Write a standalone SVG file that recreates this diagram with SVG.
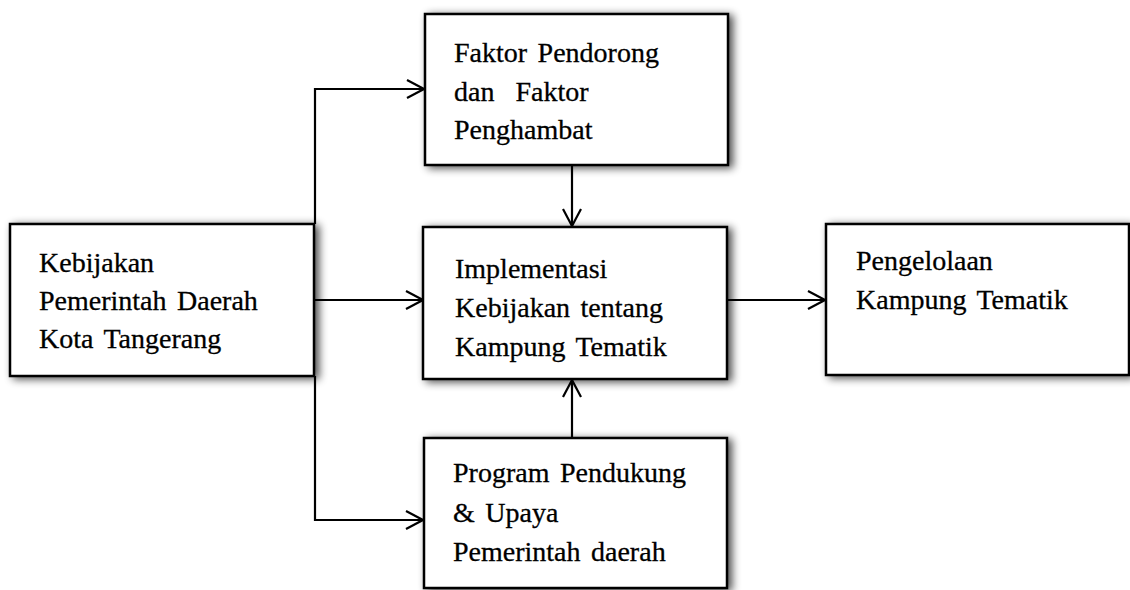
<svg xmlns="http://www.w3.org/2000/svg" width="1130" height="590" viewBox="0 0 1130 590">
  <defs>
    <filter id="shadow" x="-10%" y="-15%" width="125%" height="135%">
      <feGaussianBlur in="SourceAlpha" stdDeviation="4"/>
      <feOffset dx="4" dy="2" result="b"/>
      <feComponentTransfer><feFuncA type="linear" slope="0.7"/></feComponentTransfer>
      <feMerge><feMergeNode/><feMergeNode in="SourceGraphic"/></feMerge>
    </filter>
    <marker id="arrow" viewBox="0 0 20 20" refX="18" refY="10" markerWidth="20" markerHeight="20" markerUnits="userSpaceOnUse" orient="auto">
      <path d="M1,1 L18,10 L1,19" fill="none" stroke="#000" stroke-width="2.2"/>
    </marker>
  </defs>
  <style>
    .box { fill: #fff; stroke: #000; stroke-width: 2.5; filter: url(#shadow); }
    .lbl { font-family: "Liberation Serif", "Times New Roman", serif; font-size: 28px; word-spacing: 3.5px; fill: #000; stroke: #000; stroke-width: 0.3; }
    .conn { fill: none; stroke: #000; stroke-width: 2.2; }
  </style>
  <rect width="1130" height="590" fill="#fff"/>

  <!-- connectors -->
  <g id="connectors">
    <path class="conn" d="M315,224 L315,89 L424,89" marker-end="url(#arrow)"/>
    <path class="conn" d="M315,376 L315,520 L423,520" marker-end="url(#arrow)"/>
    <path class="conn" d="M314,300 L423,300" marker-end="url(#arrow)"/>
    <path class="conn" d="M572,165 L572,226" marker-end="url(#arrow)"/>
    <path class="conn" d="M572,438 L572,380" marker-end="url(#arrow)"/>
    <path class="conn" d="M727,300 L825,300" marker-end="url(#arrow)"/>
  </g>

  <g id="node-kebijakan">
    <rect class="box" x="10" y="224" width="304" height="152"/>
    <text class="lbl" x="39" y="272">Kebijakan</text>
    <text class="lbl" x="39" y="310">Pemerintah Daerah</text>
    <text class="lbl" x="39" y="348">Kota Tangerang</text>
  </g>

  <g id="node-faktor">
    <rect class="box" x="425" y="14" width="303" height="151"/>
    <text class="lbl" x="454" y="62">Faktor Pendorong</text>
    <text class="lbl" x="454" y="100.5" xml:space="preserve">dan  Faktor</text>
    <text class="lbl" x="454" y="139">Penghambat</text>
  </g>

  <g id="node-implementasi">
    <rect class="box" x="423" y="227" width="304" height="152"/>
    <text class="lbl" x="455" y="278">Implementasi</text>
    <text class="lbl" x="455" y="317">Kebijakan tentang</text>
    <text class="lbl" x="455" y="356">Kampung Tematik</text>
  </g>

  <g id="node-program">
    <rect class="box" x="424" y="438" width="303" height="150"/>
    <text class="lbl" x="453" y="482">Program Pendukung</text>
    <text class="lbl" x="453" y="522">&amp; Upaya</text>
    <text class="lbl" x="453" y="561">Pemerintah daerah</text>
  </g>

  <g id="node-pengelolaan">
    <rect class="box" x="826" y="224" width="303" height="151"/>
    <text class="lbl" x="856" y="270">Pengelolaan</text>
    <text class="lbl" x="856" y="309">Kampung Tematik</text>
  </g>
</svg>
